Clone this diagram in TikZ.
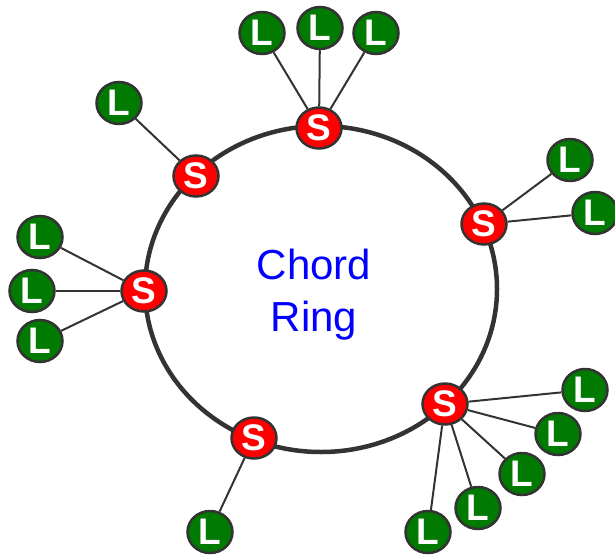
\documentclass[tikz,border=0pt]{standalone}
\usepackage{fontspec}
\setmainfont{Liberation Sans}
\usetikzlibrary{shapes.geometric}
\definecolor{edgegray}{HTML}{333333}
\definecolor{srvred}{HTML}{FF0000}
\definecolor{leafgreen}{HTML}{007A00}
\tikzset{
  srv/.style={ellipse, draw=edgegray, line width=2.5pt, fill=srvred,
    minimum width=45pt, minimum height=41pt, inner sep=0pt,
    text=white, font=\fontsize{37}{37}\selectfont\bfseries},
  leaf/.style={ellipse, draw=edgegray, line width=2.5pt, fill=leafgreen,
    minimum width=45pt, minimum height=42pt, inner sep=0pt,
    text=white, font=\fontsize{37}{37}\selectfont\bfseries},
  link/.style={draw=edgegray, line width=2pt},
  ring/.style={draw=edgegray, line width=4.5pt},
}
\begin{document}
\begin{tikzpicture}[x=1pt, y=-1pt]
\useasboundingbox (0,0) rectangle (615,554);
% the ring
\draw[ring] (321,289) ellipse [x radius=176, y radius=163];
\node[text=blue, align=center, font=\fontsize{42}{52}\selectfont] (title) at (314,295) {Chord\\Ring};
% servers on the ring
\node[srv] (s1) at (319,128) {S};
\node[srv] (s2) at (196,176) {S};
\node[srv] (s3) at (144,291) {S};
\node[srv] (s4) at (254,438) {S};
\node[srv] (s5) at (445,404) {S};
\node[srv] (s6) at (484,224) {S};
% leaves
\node[leaf] (l1a) at (262,33) {L};
\node[leaf] (l1b) at (320,28) {L};
\node[leaf] (l1c) at (376,33) {L};
\node[leaf] (l2a) at (119,103) {L};
\node[leaf] (l3a) at (40,237) {L};
\node[leaf] (l3b) at (32,291) {L};
\node[leaf] (l3c) at (40,341) {L};
\node[leaf] (l4a) at (210,532) {L};
\node[leaf] (l5a) at (585,390) {L};
\node[leaf] (l5b) at (558,434) {L};
\node[leaf] (l5c) at (522,474) {L};
\node[leaf] (l5d) at (478,508) {L};
\node[leaf] (l5e) at (428,532) {L};
\node[leaf] (l6a) at (570,160) {L};
\node[leaf] (l6b) at (595,213) {L};
% connectors
\foreach \s/\l in {s1/l1a, s1/l1b, s1/l1c, s2/l2a, s3/l3a, s3/l3b, s3/l3c,
                   s4/l4a, s5/l5a, s5/l5b, s5/l5c, s5/l5d, s5/l5e, s6/l6a, s6/l6b}
  \draw[link] (\s) -- (\l);
\end{tikzpicture}
\end{document}
